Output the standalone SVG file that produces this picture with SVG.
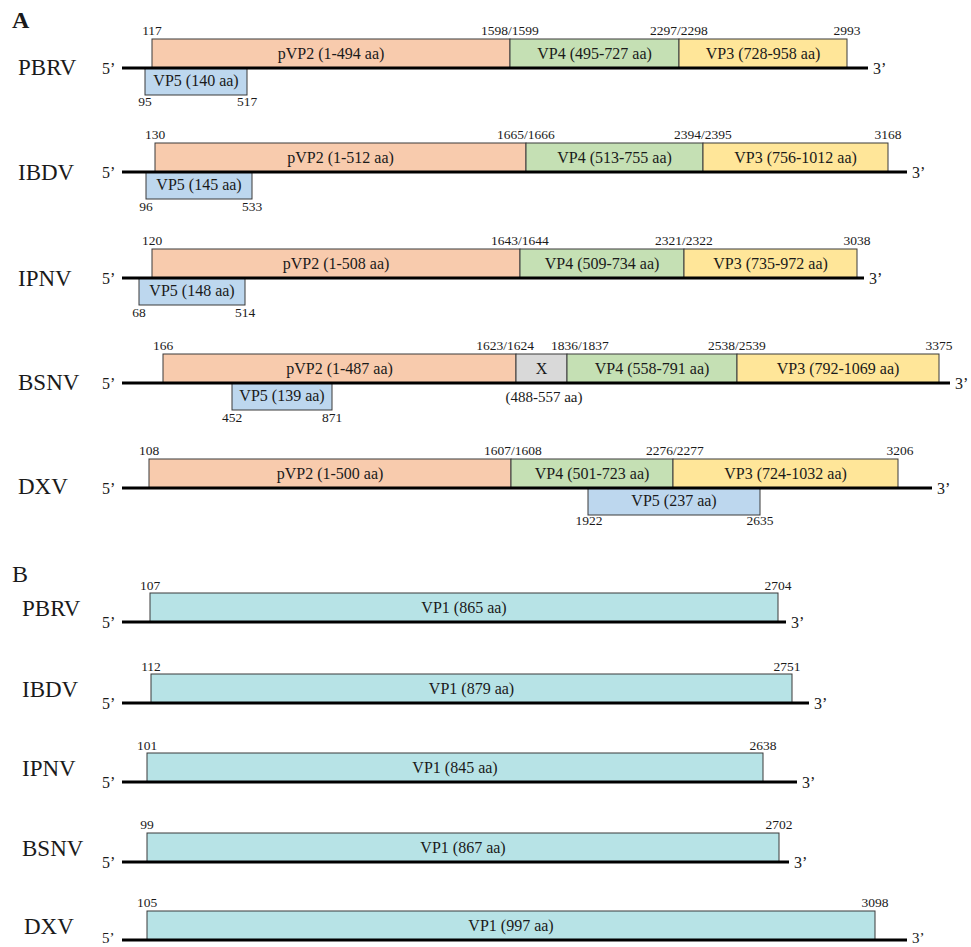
<svg xmlns="http://www.w3.org/2000/svg" width="971" height="947" viewBox="0 0 971 947">
<style>
text{font-family:"Liberation Serif","Times New Roman",serif;fill:#1a1a1a}
.lbl{font-size:23px}
.pl{font-size:24px}
.num{font-size:13.5px;text-anchor:middle}
.txt{font-size:16px;text-anchor:middle}
.end{font-size:16px}
.seg{stroke:#3a3a3a;stroke-width:1}
.p2{fill:#f8cbad}.v4{fill:#c5e0b4}.v3{fill:#ffe699}.v5{fill:#bdd7ee}.vx{fill:#d9d9d9}.v1{fill:#b7e3e6}
.bb{stroke:#000;stroke-width:3}
</style>
<rect width="971" height="947" fill="#fff"/>
<text class="pl" x="12" y="28" font-weight="bold">A</text>
<text class="pl" x="12" y="582">B</text>

<!-- Panel A -->
<g id="A-PBRV">
<text class="lbl" x="18" y="75">PBRV</text>
<text class="end" x="102" y="74">5’</text><text class="end" x="873" y="74">3’</text>
<rect class="seg p2" x="152" y="39" width="358" height="29"/>
<rect class="seg v4" x="510" y="39" width="169" height="29"/>
<rect class="seg v3" x="679" y="39" width="168" height="29"/>
<rect class="seg v5" x="145" y="68" width="102" height="27"/>
<text class="txt" x="331" y="59">pVP2 (1-494 aa)</text>
<text class="txt" x="594.5" y="59">VP4 (495-727 aa)</text>
<text class="txt" x="763" y="59">VP3 (728-958 aa)</text>
<text class="txt" x="196" y="86">VP5 (140 aa)</text>
<text class="num" x="152" y="35">117</text><text class="num" x="510" y="35">1598/1599</text>
<text class="num" x="679" y="35">2297/2298</text><text class="num" x="847" y="35">2993</text>
<text class="num" x="145" y="106">95</text><text class="num" x="247" y="106">517</text>
</g>

<g id="A-IBDV">
<text class="lbl" x="18" y="180">IBDV</text>
<text class="end" x="102" y="178">5’</text><text class="end" x="912" y="178">3’</text>
<rect class="seg p2" x="155" y="143" width="371" height="29"/>
<rect class="seg v4" x="526" y="143" width="177" height="29"/>
<rect class="seg v3" x="703" y="143" width="185" height="29"/>
<rect class="seg v5" x="146" y="172" width="106" height="27"/>
<text class="txt" x="340.5" y="163">pVP2 (1-512 aa)</text>
<text class="txt" x="614.5" y="163">VP4 (513-755 aa)</text>
<text class="txt" x="795.5" y="163">VP3 (756-1012 aa)</text>
<text class="txt" x="199" y="190">VP5 (145 aa)</text>
<text class="num" x="155" y="139">130</text><text class="num" x="526" y="139">1665/1666</text>
<text class="num" x="703" y="139">2394/2395</text><text class="num" x="888" y="139">3168</text>
<text class="num" x="146" y="211">96</text><text class="num" x="252" y="211">533</text>
</g>

<g id="A-IPNV">
<text class="lbl" x="18" y="286">IPNV</text>
<text class="end" x="102" y="284">5’</text><text class="end" x="869" y="284">3’</text>
<rect class="seg p2" x="152" y="249" width="368" height="29"/>
<rect class="seg v4" x="520" y="249" width="164" height="29"/>
<rect class="seg v3" x="684" y="249" width="173" height="29"/>
<rect class="seg v5" x="139" y="278" width="106" height="27"/>
<text class="txt" x="336" y="269">pVP2 (1-508 aa)</text>
<text class="txt" x="602" y="269">VP4 (509-734 aa)</text>
<text class="txt" x="770.5" y="269">VP3 (735-972 aa)</text>
<text class="txt" x="192" y="296">VP5 (148 aa)</text>
<text class="num" x="152" y="245">120</text><text class="num" x="520" y="245">1643/1644</text>
<text class="num" x="684" y="245">2321/2322</text><text class="num" x="857" y="245">3038</text>
<text class="num" x="139" y="317">68</text><text class="num" x="245" y="317">514</text>
</g>

<g id="A-BSNV">
<text class="lbl" x="18" y="390">BSNV</text>
<text class="end" x="102" y="389">5’</text><text class="end" x="955" y="389">3’</text>
<rect class="seg p2" x="163" y="354" width="353" height="29"/>
<rect class="seg vx" x="516" y="354" width="51" height="29"/>
<rect class="seg v4" x="567" y="354" width="170" height="29"/>
<rect class="seg v3" x="737" y="354" width="202" height="29"/>
<rect class="seg v5" x="232" y="383" width="100" height="27"/>
<text class="txt" x="339.5" y="374">pVP2 (1-487 aa)</text>
<text class="txt" x="541.5" y="374">X</text>
<text class="txt" x="652" y="374">VP4 (558-791 aa)</text>
<text class="txt" x="838" y="374">VP3 (792-1069 aa)</text>
<text class="txt" x="282" y="401">VP5 (139 aa)</text>
<text class="txt" x="544" y="402" style="font-size:15px">(488-557 aa)</text>
<text class="num" x="163" y="350">166</text>
<text class="num" x="534" y="350" style="text-anchor:end">1623/1624</text>
<text class="num" x="551" y="350" style="text-anchor:start">1836/1837</text>
<text class="num" x="737" y="350">2538/2539</text><text class="num" x="939" y="350">3375</text>
<text class="num" x="232" y="422">452</text><text class="num" x="332" y="422">871</text>
</g>

<g id="A-DXV">
<text class="lbl" x="18" y="494">DXV</text>
<text class="end" x="102" y="494">5’</text><text class="end" x="937" y="494">3’</text>
<rect class="seg p2" x="149" y="459" width="362" height="29"/>
<rect class="seg v4" x="511" y="459" width="162" height="29"/>
<rect class="seg v3" x="673" y="459" width="225" height="29"/>
<rect class="seg v5" x="588" y="488" width="172" height="27"/>
<text class="txt" x="330" y="479">pVP2 (1-500 aa)</text>
<text class="txt" x="592" y="479">VP4 (501-723 aa)</text>
<text class="txt" x="785.5" y="479">VP3 (724-1032 aa)</text>
<text class="txt" x="674" y="506">VP5 (237 aa)</text>
<text class="num" x="149" y="455">108</text><text class="num" x="513" y="455">1607/1608</text>
<text class="num" x="675" y="455">2276/2277</text><text class="num" x="900" y="455">3206</text>
<text class="num" x="589" y="525">1922</text><text class="num" x="760" y="525">2635</text>
</g>

<!-- Panel B -->
<g id="B-PBRV">
<text class="lbl" x="22" y="616">PBRV</text>
<text class="end" x="102" y="628">5’</text><text class="end" x="791" y="628">3’</text>
<rect class="seg v1" x="150" y="593" width="628" height="29"/>
<text class="txt" x="464" y="613">VP1 (865 aa)</text>
<text class="num" x="150" y="590">107</text><text class="num" x="778" y="590">2704</text>
</g>
<g id="B-IBDV">
<text class="lbl" x="22" y="697">IBDV</text>
<text class="end" x="102" y="709">5’</text><text class="end" x="814" y="709">3’</text>
<rect class="seg v1" x="151" y="674" width="641" height="29"/>
<text class="txt" x="471.5" y="694">VP1 (879 aa)</text>
<text class="num" x="151" y="671">112</text><text class="num" x="787" y="671">2751</text>
</g>
<g id="B-IPNV">
<text class="lbl" x="22" y="776">IPNV</text>
<text class="end" x="102" y="788">5’</text><text class="end" x="802" y="788">3’</text>
<rect class="seg v1" x="147" y="753" width="616" height="29"/>
<text class="txt" x="455" y="773">VP1 (845 aa)</text>
<text class="num" x="147" y="750">101</text><text class="num" x="763" y="750">2638</text>
</g>
<g id="B-BSNV">
<text class="lbl" x="22" y="856">BSNV</text>
<text class="end" x="102" y="868">5’</text><text class="end" x="794" y="868">3’</text>
<rect class="seg v1" x="147" y="833" width="632" height="29"/>
<text class="txt" x="463" y="853">VP1 (867 aa)</text>
<text class="num" x="147" y="829">99</text><text class="num" x="779" y="829">2702</text>
</g>
<g id="B-DXV">
<text class="lbl" x="24" y="934">DXV</text>
<text class="end" x="102" y="943" style="font-size:15px">5’</text><text class="end" x="912" y="943" style="font-size:15px">3’</text>
<rect class="seg v1" x="147" y="911" width="728" height="29"/>
<text class="txt" x="511" y="931">VP1 (997 aa)</text>
<text class="num" x="147" y="907">105</text><text class="num" x="875" y="907">3098</text>
</g>

<g id="connectors">
<line class="bb" x1="122" y1="68" x2="868" y2="68"/>
<line class="bb" x1="122" y1="172" x2="907" y2="172"/>
<line class="bb" x1="122" y1="278" x2="864" y2="278"/>
<line class="bb" x1="122" y1="383" x2="950" y2="383"/>
<line class="bb" x1="122" y1="488" x2="932" y2="488"/>
<line class="bb" x1="122" y1="622" x2="786" y2="622"/>
<line class="bb" x1="122" y1="703" x2="809" y2="703"/>
<line class="bb" x1="122" y1="782" x2="797" y2="782"/>
<line class="bb" x1="122" y1="862" x2="789" y2="862"/>
<line class="bb" x1="122" y1="940" x2="907" y2="940"/>
</g>
</svg>
